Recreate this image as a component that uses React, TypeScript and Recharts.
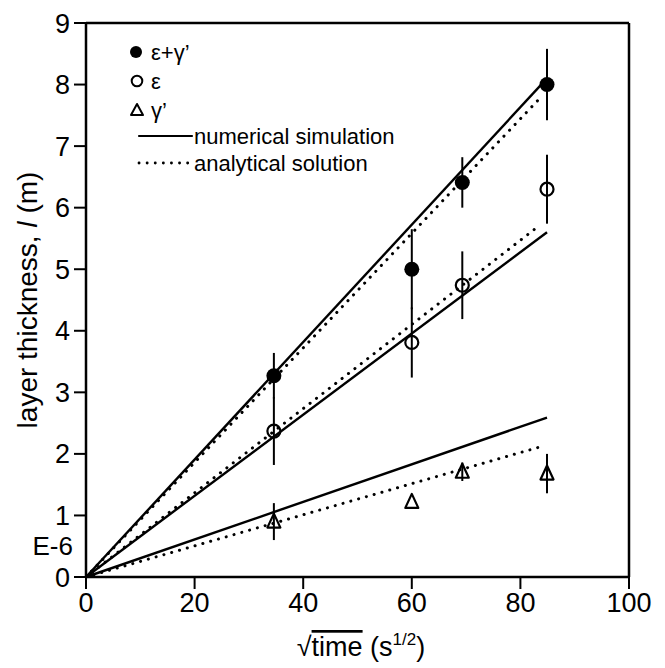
import { ComposedChart, ErrorBar, Label, Line, Scatter, XAxis, YAxis } from 'recharts'

// sqrt(t) of the four sampling times: 20 min, 1 h, 80 min, 2 h
const sqrtTime = [34.6, 60, 69.3, 84.9]

const epsGamma = [3.27, 5.0, 6.41, 8.0]
const epsGammaErr = [0.37, 0.65, 0.41, 0.58]
const eps = [2.37, 3.81, 4.74, 6.3]
const epsErr = [0.55, 0.57, 0.55, 0.56]
const gamma = [0.9, 1.22, 1.71, 1.68]
const gammaErr = [0.3, 0, 0.15, 0.32]

// numerical simulation (solid)
const numX = [0, 84.9]
const numEpsGamma = [0, 8.1]
const numEps = [0, 5.6]
const numGamma = [0, 2.59]

// analytical solution (dotted)
const anaX = [0, 83.5]
const anaEpsGamma = [0, 7.77]
const anaEps = [0, 5.71]
const anaGamma = [0, 2.11]

const xTicks = [0, 20, 40, 60, 80, 100]
const yTicks = [0, 1, 2, 3, 4, 5, 6, 7, 8, 9]

const legendMarkers = [
  { kind: 'filled', label: 'ε+γ’' },
  { kind: 'open', label: 'ε' },
  { kind: 'tri', label: 'γ’' },
]
const legendLines = [
  { kind: 'solid', label: 'numerical simulation' },
  { kind: 'dotted', label: 'analytical solution' },
]

const FONT = '"Liberation Sans", Arial, Helvetica, sans-serif'
const INK = '#000'

const points = (ys: number[], errs: number[]) =>
  sqrtTime.map((x, i) => ({ x, y: ys[i], err: errs[i] }))
const curve = (xs: number[], ys: number[]) => xs.map((x, i) => ({ x, y: ys[i] }))

const FilledDot = (p: any) => <circle cx={p.cx} cy={p.cy} r={7.5} fill={INK} />
const OpenDot = (p: any) => (
  <circle cx={p.cx} cy={p.cy} r={6.5} fill="none" stroke={INK} strokeWidth={2.2} />
)
const TriDot = (p: any) => (
  <path
    d={`M${p.cx},${p.cy - 8} L${p.cx + 6.5},${p.cy + 6} L${p.cx - 6.5},${p.cy + 6} Z`}
    fill="none"
    stroke={INK}
    strokeWidth={2.2}
    strokeLinejoin="round"
  />
)

function YTitle() {
  return (
    <text
      x={27}
      y={300}
      transform="rotate(-90 27 300)"
      textAnchor="middle"
      dominantBaseline="central"
      fontFamily={FONT}
      fontSize={28}
      fill={INK}
    >
      layer thickness, <tspan fontStyle="italic">l</tspan> (m)
    </text>
  )
}

function XTitle() {
  return (
    <text x={361} y={656} textAnchor="middle" fontFamily={FONT} fontSize={27} fill={INK}>
      √<tspan style={{ textDecoration: 'overline' }}>time</tspan> (s
      <tspan dy={-11} fontSize={17}>1/2</tspan>
      <tspan dy={11}>)</tspan>
    </text>
  )
}

function Overlay() {
  return (
    <svg
      width={665}
      height={668}
      style={{ position: 'absolute', left: 0, top: 0, pointerEvents: 'none' }}
      fontFamily={FONT}
    >
      {legendMarkers.map((m, i) => {
        const cy = 52 + i * 29
        return (
          <g key={m.label}>
            {m.kind === 'filled' && <circle cx={136} cy={cy} r={6} fill={INK} />}
            {m.kind === 'open' && (
              <circle cx={137} cy={cy} r={5.3} fill="none" stroke={INK} strokeWidth={2} />
            )}
            {m.kind === 'tri' && (
              <path
                d={`M137,${cy - 6} L143,${cy + 5} L131,${cy + 5} Z`}
                fill="none"
                stroke={INK}
                strokeWidth={2}
                strokeLinejoin="round"
              />
            )}
            <text x={151} y={cy} dominantBaseline="central" fontSize={22} fill={INK}>
              {m.label}
            </text>
          </g>
        )
      })}
      {legendLines.map((l, i) => {
        const cy = 136 + i * 27
        return (
          <g key={l.label}>
            <line
              x1={139}
              x2={192}
              y1={cy}
              y2={cy}
              stroke={INK}
              strokeWidth={l.kind === 'solid' ? 2.2 : 2.8}
              strokeDasharray={l.kind === 'solid' ? undefined : '0.1 8'}
              strokeLinecap="round"
            />
            <text x={194} y={cy} dominantBaseline="central" fontSize={22} fill={INK}>
              {l.label}
            </text>
          </g>
        )
      })}
      <text x={73} y={555} textAnchor="end" fontSize={26} fill={INK}>
        E-6
      </text>
    </svg>
  )
}

const tickStyle = { fontSize: 27, fill: INK, fontFamily: FONT }
const axisLine = { stroke: INK, strokeWidth: 2.5 }
const tickLine = { stroke: INK, strokeWidth: 2 }

export default function App() {
  return (
    <div style={{ position: 'absolute', left: 0, top: 0, width: 665, height: 668, background: '#fff' }}>
      <ComposedChart width={665} height={668} margin={{ top: 0, right: 0, bottom: 0, left: 0 }}>
        <XAxis
          xAxisId="b"
          dataKey="x"
          type="number"
          domain={[0, 100]}
          ticks={xTicks}
          height={91}
          tickSize={12}
          tickMargin={4}
          tick={tickStyle}
          axisLine={axisLine}
          tickLine={tickLine}
          interval={0}
        >
          <Label content={<XTitle />} />
        </XAxis>
        <XAxis
          xAxisId="t"
          orientation="top"
          dataKey="x"
          type="number"
          domain={[0, 100]}
          ticks={xTicks}
          height={23}
          tickSize={12}
          tickFormatter={() => ''}
          axisLine={axisLine}
          tickLine={tickLine}
          interval={0}
        />
        <YAxis
          yAxisId="l"
          type="number"
          domain={[0, 9]}
          ticks={yTicks}
          width={86}
          tickSize={12}
          tickMargin={4}
          tick={tickStyle}
          axisLine={axisLine}
          tickLine={tickLine}
          interval={0}
        >
          <Label content={<YTitle />} />
        </YAxis>
        <YAxis
          yAxisId="r"
          orientation="right"
          type="number"
          domain={[0, 9]}
          ticks={yTicks}
          width={36}
          tickSize={12}
          tickFormatter={() => ''}
          axisLine={axisLine}
          tickLine={tickLine}
          interval={0}
        />

        {[numEpsGamma, numEps, numGamma].map((ys, i) => (
          <Line
            key={`num${i}`}
            xAxisId="b"
            yAxisId="l"
            data={curve(numX, ys)}
            dataKey="y"
            stroke={INK}
            strokeWidth={2.4}
            dot={false}
            activeDot={false}
            isAnimationActive={false}
          />
        ))}
        {[anaEpsGamma, anaEps, anaGamma].map((ys, i) => (
          <Line
            key={`ana${i}`}
            xAxisId="b"
            yAxisId="l"
            data={curve(anaX, ys)}
            dataKey="y"
            stroke={INK}
            strokeWidth={3}
            strokeDasharray="0.1 8"
            strokeLinecap="round"
            dot={false}
            activeDot={false}
            isAnimationActive={false}
          />
        ))}

        <Scatter
          xAxisId="b"
          yAxisId="l"
          data={points(epsGamma, epsGammaErr)}
          dataKey="y"
          shape={FilledDot}
          isAnimationActive={false}
        >
          <ErrorBar dataKey="err" direction="y" width={0} stroke={INK} strokeWidth={2} isAnimationActive={false} />
        </Scatter>
        <Scatter
          xAxisId="b"
          yAxisId="l"
          data={points(eps, epsErr)}
          dataKey="y"
          shape={OpenDot}
          isAnimationActive={false}
        >
          <ErrorBar dataKey="err" direction="y" width={0} stroke={INK} strokeWidth={2} isAnimationActive={false} />
        </Scatter>
        <Scatter
          xAxisId="b"
          yAxisId="l"
          data={points(gamma, gammaErr)}
          dataKey="y"
          shape={TriDot}
          isAnimationActive={false}
        >
          <ErrorBar dataKey="err" direction="y" width={0} stroke={INK} strokeWidth={2} isAnimationActive={false} />
        </Scatter>
      </ComposedChart>
      <Overlay />
    </div>
  )
}
